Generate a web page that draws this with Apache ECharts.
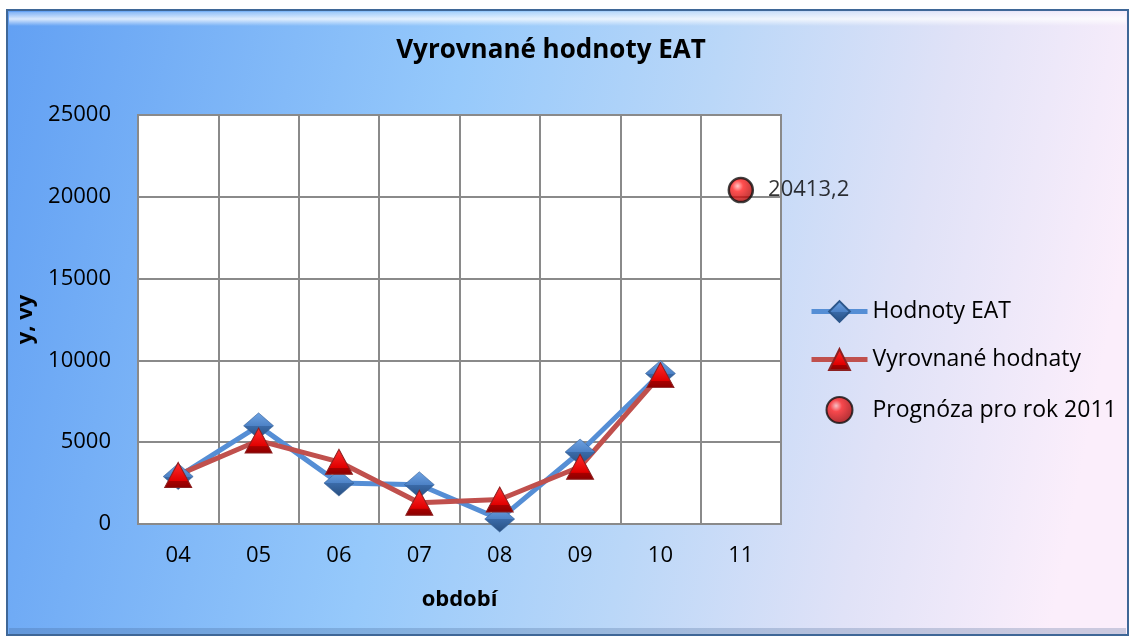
<!DOCTYPE html>
<html>
<head>
<meta charset="utf-8">
<script src="https://cdn.jsdelivr.net/npm/echarts@6/dist/echarts.min.js"></script>
<style>
  html, body { margin: 0; padding: 0; background: #fff; }
  #chart { width: 1130px; height: 639px; }
</style>
</head>
<body>
<div id="chart"></div>
<script>
var categories = ['04', '05', '06', '07', '08', '09', '10', '11'];
var eatValues = [2900, 6000, 2500, 2400, 300, 4400, 9200, null];
var fittedValues = [3000, 5100, 3800, 1300, 1500, 3500, 9100, null];
var forecastValues = [null, null, null, null, null, null, null, 20413.2];

var FONT = '"Open Sans", "Noto Sans", sans-serif';

var chart = echarts.init(document.getElementById('chart'));

var diamondFill = new echarts.graphic.LinearGradient(0, 0, 0, 1, [
    {offset: 0, color: '#6fa3e2'},
    {offset: 0.5, color: '#4d82c6'},
    {offset: 0.51, color: '#3a6aa8'},
    {offset: 1, color: '#284f80'}
]);
var triangleFill = new echarts.graphic.LinearGradient(0, 0, 0, 1, [
    {offset: 0, color: '#ff3030'},
    {offset: 0.72, color: '#e00000'},
    {offset: 0.73, color: '#a80000'},
    {offset: 1, color: '#8a0000'}
]);
var ballFill = new echarts.graphic.RadialGradient(0.38, 0.35, 0.7, [
    {offset: 0, color: '#ffb8b8'},
    {offset: 0.3, color: '#ff2222'},
    {offset: 1, color: '#9a0000'}
]);

var option = {
    animation: false,
    graphic: [
        {
            type: 'rect', z: -10, silent: true,
            shape: {x: 7, y: 10, width: 1121, height: 625},
            style: {
                fill: new echarts.graphic.LinearGradient(0, 0, 1, 0.35, [
                    {offset: 0, color: '#62a0f3'},
                    {offset: 0.4, color: '#96c9fb'},
                    {offset: 0.62, color: '#bad7f8'},
                    {offset: 0.82, color: '#e0e2f7'},
                    {offset: 1, color: '#fbeefb'}
                ]),
                stroke: '#3f6797',
                lineWidth: 2
            }
        },
        {
            type: 'rect', z: -9, silent: true,
            shape: {x: 9, y: 12, width: 1117, height: 14},
            style: {
                fill: new echarts.graphic.LinearGradient(0, 0, 0, 1, [
                    {offset: 0, color: 'rgba(255,255,255,0.2)'},
                    {offset: 0.5, color: 'rgba(255,255,255,0.75)'},
                    {offset: 1, color: 'rgba(255,255,255,0)'}
                ])
            }
        },
        {
            type: 'rect', z: -9, silent: true,
            shape: {x: 9, y: 628, width: 1117, height: 6},
            style: {fill: 'rgba(60,90,140,0.25)'}
        }
    ],
    title: {
        text: 'Vyrovnané hodnoty EAT',
        left: 546,
        top: 33,
        textAlign: 'center',
        textStyle: {fontFamily: FONT, fontSize: 26, fontWeight: 'bold', color: '#000'}
    },
    legend: {
        orient: 'vertical',
        left: 809,
        top: 300,
        padding: 0,
        itemWidth: 56,
        itemHeight: 26,
        itemGap: 25,
        lineStyle: {width: 5},
        textStyle: {fontFamily: FONT, fontSize: 23, color: '#000', padding: [0, 0, 0, 0]},
        data: ['Hodnoty EAT', 'Vyrovnané hodnaty', 'Prognóza pro rok 2011']
    },
    grid: {
        left: 138, top: 115, right: 349, bottom: 115,
        show: true,
        backgroundColor: '#ffffff',
        borderColor: '#8a8a8a',
        borderWidth: 2
    },
    xAxis: {
        type: 'category',
        data: categories,
        boundaryGap: true,
        name: 'období',
        nameLocation: 'middle',
        nameGap: 65,
        nameTextStyle: {fontFamily: FONT, fontSize: 22, fontWeight: 'bold', color: '#000'},
        axisLine: {lineStyle: {color: '#8a8a8a', width: 2}},
        axisTick: {show: false},
        axisLabel: {fontFamily: FONT, fontSize: 22, color: '#000', margin: 21},
        splitLine: {show: true, lineStyle: {color: '#8a8a8a', width: 2}}
    },
    yAxis: {
        type: 'value',
        min: 0,
        max: 25000,
        interval: 5000,
        name: 'y, vy',
        nameLocation: 'middle',
        nameGap: 94,
        nameTextStyle: {fontFamily: FONT, fontSize: 22, fontWeight: 'bold', color: '#000'},
        axisLine: {show: true, lineStyle: {color: '#8a8a8a', width: 2}},
        axisTick: {show: false},
        axisLabel: {
            fontFamily: FONT, fontSize: 22, color: '#000', margin: 27,
            formatter: function (v) { return String(v); }
        },
        splitLine: {lineStyle: {color: '#8a8a8a', width: 2}}
    },
    series: [
        {
            name: 'Hodnoty EAT',
            type: 'line',
            data: eatValues,
            symbol: 'diamond',
            symbolSize: [30, 26],
            lineStyle: {color: '#558ed5', width: 5},
            itemStyle: {color: diamondFill, borderColor: '#2c578c', borderWidth: 0.5},
            color: '#558ed5'
        },
        {
            name: 'Vyrovnané hodnaty',
            type: 'line',
            data: fittedValues,
            symbol: 'triangle',
            symbolSize: [27, 25],
            lineStyle: {color: '#c0504d', width: 5},
            itemStyle: {color: triangleFill, borderColor: '#8c2020', borderWidth: 1},
            color: '#c0504d'
        },
        {
            name: 'Prognóza pro rok 2011',
            type: 'scatter',
            data: forecastValues,
            symbol: 'circle',
            symbolSize: 24,
            itemStyle: {color: ballFill, borderColor: '#111', borderWidth: 2.5},
            label: {
                show: true,
                position: 'right',
                distance: 14,
                fontFamily: FONT,
                fontSize: 22,
                color: '#000',
                formatter: function (p) {
                    return String(p.value).replace('.', ',');
                }
            }
        }
    ]
};

chart.setOption(option);
</script>
</body>
</html>
